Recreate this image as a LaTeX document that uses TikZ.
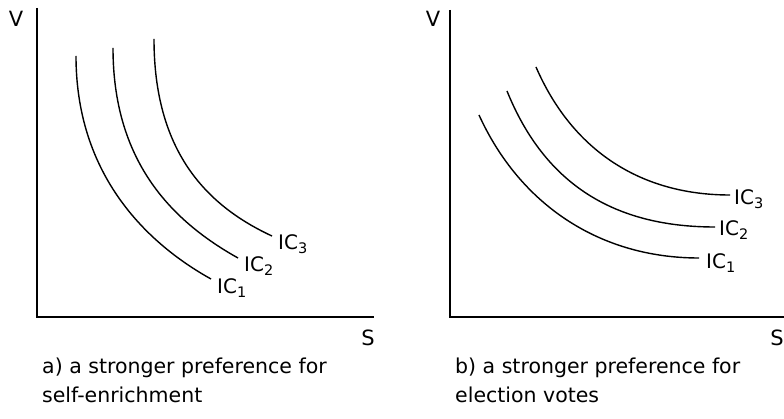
\documentclass[tikz,border=0pt]{standalone}
\usepackage{fontspec}
\setmainfont{DejaVu Sans}
\newcommand{\ICl}[1]{IC\raisebox{-0.38ex}{\fontsize{14.5}{14.5}\selectfont #1}}
\begin{document}
\begin{tikzpicture}[x=1pt,y=-1pt,
  axis/.style={line width=1.8pt},
  curve/.style={line width=1.4pt},
  lbl/.style={font=\fontsize{20}{20}\selectfont, inner sep=0pt, anchor=west},
  axlbl/.style={font=\fontsize{21}{21}\selectfont, inner sep=0pt},
  captext/.style={font=\fontsize{20.5}{29}\selectfont, inner sep=0pt, anchor=north west, align=left}]
\useasboundingbox (0,0) rectangle (784,419);
% left panel
\coordinate (aO) at (37,317);
\coordinate (aT) at (37,8);
\coordinate (aR) at (374,317);
\draw[axis] (aT) -- (aO) -- (aR);
\node[axlbl] (aV) at (16,19) {V};
\node[axlbl] (aS) at (368,338) {S};
\coordinate (a1s) at (76,56);
\coordinate (a1e) at (211,279);
\coordinate (a2s) at (113,48);
\coordinate (a2e) at (238,258);
\coordinate (a3s) at (154,39);
\coordinate (a3e) at (272,236);
\draw[curve] (a1s) .. controls (76,170) and (141,240) .. (a1e);
\draw[curve] (a2s) .. controls (113,160) and (170,220) .. (a2e);
\draw[curve] (a3s) .. controls (154,150) and (205,205) .. (a3e);
\node[lbl] (aL1) at (217,288) {\ICl{1}};
\node[lbl] (aL2) at (244,266) {\ICl{2}};
\node[lbl] (aL3) at (278,244) {\ICl{3}};
\node[captext] (acap) at (42,358) {a) a stronger preference for\\self-enrichment};
% right panel
\coordinate (bO) at (450,317);
\coordinate (bT) at (450,10);
\coordinate (bR) at (790,317);
\draw[axis] (bT) -- (bO) -- (bR);
\node[axlbl] (bV) at (433,19) {V};
\node[axlbl] (bS) at (777,338) {S};
\coordinate (b1s) at (479,115);
\coordinate (b1e) at (699,258);
\coordinate (b2s) at (507,91);
\coordinate (b2e) at (715,227);
\coordinate (b3s) at (536,67);
\coordinate (b3e) at (730,195);
\draw[curve] (b1s) .. controls (520,205) and (600,258) .. (b1e);
\draw[curve] (b2s) .. controls (545,185) and (615,227) .. (b2e);
\draw[curve] (b3s) .. controls (572,150) and (640,195) .. (b3e);
\node[lbl] (bL1) at (706,263) {\ICl{1}};
\node[lbl] (bL2) at (719,230) {\ICl{2}};
\node[lbl] (bL3) at (734,199) {\ICl{3}};
\node[captext] (bcap) at (455,358) {b) a stronger preference for\\election votes};
\end{tikzpicture}
\end{document}
